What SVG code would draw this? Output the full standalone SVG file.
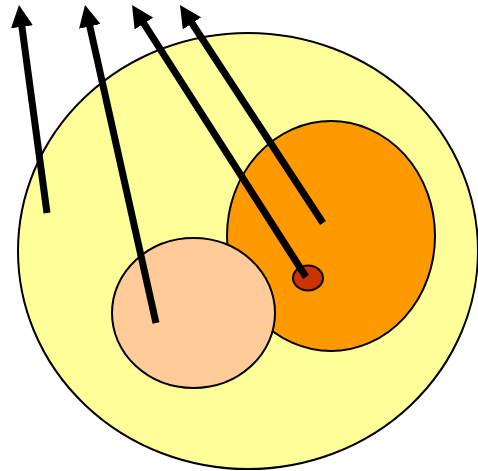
<svg xmlns="http://www.w3.org/2000/svg" width="478" height="471" viewBox="0 0 478 471">
  <defs>
    <style>
      .shape { stroke: #000; stroke-width: 2; }
      .arrow { stroke: #000; stroke-width: 7; stroke-linecap: butt; fill: none; marker-end: url(#head); }
    </style>
    <marker id="head" viewBox="0 0 22 22" refX="7" refY="11" markerWidth="22" markerHeight="22" markerUnits="userSpaceOnUse" orient="auto">
      <path d="M0,0 L22,11 L0,22 Z" fill="#000"/>
    </marker>
  </defs>
  <rect width="478" height="471" fill="#fff"/>
  <g id="outer"><ellipse class="shape" cx="248" cy="251" rx="230" ry="218" fill="#FFFF99"/></g>
  <g id="orange"><ellipse class="shape" cx="331" cy="236" rx="104" ry="115" fill="#FF9900"/></g>
  <g id="peach"><ellipse class="shape" cx="193.5" cy="313" rx="81.5" ry="75" fill="#FFCC99"/></g>
  <g id="red"><ellipse class="shape" cx="308" cy="278" rx="15" ry="12.5" fill="#CC3300"/></g>
  <g id="connectors">
    <line class="arrow" x1="47" y1="213" x2="21" y2="19.9"/>
    <line class="arrow" x1="156" y1="323" x2="88.3" y2="19.6"/>
    <line class="arrow" x1="306" y1="277" x2="140.1" y2="17.6"/>
    <line class="arrow" x1="323" y1="223" x2="188.2" y2="17.5"/>
  </g>
</svg>
